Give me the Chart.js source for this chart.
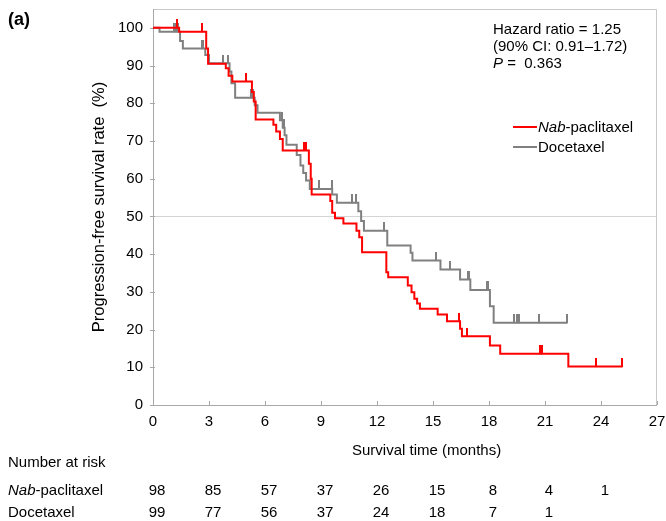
<!DOCTYPE html>
<html lang="en">
<head>
    <meta charset="UTF-8">
    <title>Progression-free survival</title>
    <script src="https://cdn.jsdelivr.net/npm/chart.js"></script>
    <style>
        body {
            margin: 0;
            font-family: "Liberation Sans", Arial, sans-serif;
            background: #fff;
        }
        #wrap {
            position: relative;
            width: 666px;
            height: 521px;
            overflow: hidden;
        }
        .txt {
            position: absolute;
            font-size: 15px;
            line-height: 17px;
            color: #000;
            white-space: nowrap;
        }
        .num {
            transform: translateX(-50%);
        }
        .key {
            position: absolute;
            width: 24px;
            height: 2px;
        }
    </style>
</head>
<body>

    <div id="wrap">
        <canvas id="km" width="666" height="521"></canvas>

        <div class="txt" style="left:8px; top:9px; font-size:18px; line-height:20px; font-weight:bold;">(a)</div>

        <!-- Hazard ratio block -->
        <div class="txt" style="left:493px; top:20px;">Hazard ratio = 1.25</div>
        <div class="txt" style="left:493px; top:37px;">(90% CI: 0.91–1.72)</div>
        <div class="txt" style="left:493px; top:54px;"><i>P</i> =&nbsp; 0.363</div>

        <!-- Legend -->
        <div class="key" style="left:513px; top:126px; background:#ff0000;"></div>
        <div class="txt" style="left:538px; top:118px;"><i>Nab</i>-paclitaxel</div>
        <div class="key" style="left:513px; top:146px; background:#808080;"></div>
        <div class="txt" style="left:538px; top:138px;">Docetaxel</div>

        <div class="txt" style="left:352px; top:441px;">Survival time (months)</div>

        <!-- Number at risk -->
        <div class="txt" style="left:8px; top:453px;">Number at risk</div>
        <div class="txt" style="left:8px; top:481px;"><i>Nab</i>-paclitaxel</div>
        <div class="txt" style="left:8px; top:503px;">Docetaxel</div>
        <div id="riskRows"></div>
    </div>

    <script>
        // Kaplan-Meier steps (time in months, survival in %)
        const nabTimes = [0, 1.4, 2.85, 2.95, 3.9, 4.05, 4.25, 5.3, 5.4, 5.5, 6.45, 6.6, 6.8, 6.95,
            8.35, 8.45, 8.5, 9.5, 9.6, 9.75, 10.2, 10.9, 11.05, 11.2, 12.5, 12.6, 13.65, 13.85,
            14.0, 14.15, 14.3, 15.25, 15.75, 16.45, 16.55, 18.05, 18.6, 22.25, 25.15];
        const nabSurv = [100, 99, 94.5, 90.5, 89.3, 87.3, 85.8, 83, 80.5, 75.7, 74.3, 72.5, 70.5, 67.5,
            64, 60, 55.8, 54.1, 51.0, 49.5, 48.1, 46.2, 44.5, 40.5, 35.2, 33.9, 31.7, 29.9,
            28.2, 26.9, 25.5, 24.0, 22.2, 20.2, 18.2, 15.8, 13.6, 10.2, 10.2];
        const nabCensor = [1.3, 2.6, 5.0, 8.1, 8.2, 16.4, 16.8, 20.75, 20.85, 23.75, 25.15];

        const doceTimes = [0, 0.35, 1.45, 1.6, 2.8, 3.0, 4.1, 4.2, 4.4, 5.45, 5.6, 6.8, 6.95, 7.05, 7.15,
            7.7, 7.9, 8.05, 8.2, 8.4, 9.6, 9.85, 11.0, 11.15, 11.3, 12.55, 13.8, 13.9, 15.4,
            16.45, 17.0, 18.05, 18.25, 22.19];
        const doceSurv = [100, 99, 96.5, 94.5, 92.8, 90.6, 88.4, 85.3, 81.5, 79.5, 77.5, 75.5, 73.5, 71.5, 69.0,
            66.3, 63.5, 61.5, 59.5, 57.3, 55.8, 53.6, 51.4, 48.8, 46.2, 42.3, 40.4, 38.3, 35.9,
            33.3, 30.5, 26.2, 21.8, 21.8];
        const doceCensor = [1.1, 1.25, 1.35, 2.6, 2.7, 3.75, 4.0, 5.25, 5.35, 6.9, 7.0, 8.9, 9.57,
            10.64, 10.85, 12.4, 15.15, 15.9, 16.85, 16.95, 17.87, 17.96, 19.35, 19.48, 19.62, 20.67, 22.19];

        const riskTimes = [0, 3, 6, 9, 12, 15, 18, 21, 24];
        const nabRisk = [98, 85, 57, 37, 26, 15, 8, 4, 1];
        const doceRisk = [99, 77, 56, 37, 24, 18, 7, 1];

        const RED = '#ff0000';
        const GREY = '#808080';
        const FONT = '"Liberation Sans", Arial, sans-serif';

        function survAt(times, surv, t) {
            let s = surv[0];
            for (let i = 0; i < times.length; i++) {
                if (times[i] <= t) s = surv[i];
            }
            return s;
        }

        // small vertical tick standing on the curve, used as censor mark
        function censorMark(color) {
            const c = document.createElement('canvas');
            c.width = 2;
            c.height = 17;
            const g = c.getContext('2d');
            g.fillStyle = color;
            g.fillRect(0, 0, 2, 9);
            return c;
        }

        const framePlugin = {
            id: 'frame',
            beforeDatasetsDraw(chart) {
                const {ctx, chartArea: a, scales: {x, y}} = chart;
                ctx.save();
                // 50% reference line
                const y50 = Math.round(y.getPixelForValue(50)) + 0.5;
                ctx.strokeStyle = '#d4d4d4';
                ctx.lineWidth = 1;
                ctx.beginPath();
                ctx.moveTo(a.left, y50);
                ctx.lineTo(a.right, y50);
                ctx.stroke();
                // top / right border
                ctx.strokeStyle = '#c8c8c8';
                ctx.beginPath();
                ctx.moveTo(a.left, a.top + 0.5);
                ctx.lineTo(a.right - 0.5, a.top + 0.5);
                ctx.lineTo(a.right - 0.5, a.bottom);
                ctx.stroke();
                // axes
                ctx.strokeStyle = '#a8a8a8';
                ctx.beginPath();
                ctx.moveTo(a.left + 0.5, a.top);
                ctx.lineTo(a.left + 0.5, a.bottom + 0.5);
                ctx.lineTo(a.right, a.bottom + 0.5);
                ctx.stroke();
                // tick marks
                ctx.beginPath();
                x.ticks.forEach(t => {
                    const px = Math.round(x.getPixelForValue(t.value)) + 0.5;
                    ctx.moveTo(px, a.bottom);
                    ctx.lineTo(px, a.bottom - 4);
                });
                y.ticks.forEach(t => {
                    const py = Math.round(y.getPixelForValue(t.value)) + 0.5;
                    ctx.moveTo(a.left - 3, py);
                    ctx.lineTo(a.left + 2, py);
                });
                ctx.stroke();
                ctx.restore();
            }
        };

        const toPoints = (times, surv) => times.map((t, i) => ({x: t, y: surv[i]}));
        const toCensor = (cens, times, surv) => cens.map(t => ({x: t, y: survAt(times, surv, t)}));

        const chart = new Chart(document.getElementById('km'), {
            type: 'scatter',
            data: {
                datasets: [
                    {
                        label: 'Nab-paclitaxel',
                        data: toPoints(nabTimes, nabSurv),
                        showLine: true,
                        stepped: 'before',
                        borderColor: RED,
                        borderWidth: 2,
                        pointRadius: 0
                    },
                    {
                        label: 'Nab-paclitaxel censored',
                        data: toCensor(nabCensor, nabTimes, nabSurv),
                        pointStyle: censorMark(RED),
                        pointRadius: 8
                    },
                    {
                        label: 'Docetaxel',
                        data: toPoints(doceTimes, doceSurv),
                        showLine: true,
                        stepped: 'before',
                        borderColor: GREY,
                        borderWidth: 2,
                        pointRadius: 0
                    },
                    {
                        label: 'Docetaxel censored',
                        data: toCensor(doceCensor, doceTimes, doceSurv),
                        pointStyle: censorMark(GREY),
                        pointRadius: 8
                    }
                ]
            },
            options: {
                responsive: false,
                animation: false,
                layout: {
                    padding: {left: 86, right: 9, top: 8, bottom: 0}
                },
                plugins: {
                    legend: {display: false},
                    tooltip: {enabled: false}
                },
                scales: {
                    x: {
                        type: 'linear',
                        min: 0,
                        max: 27,
                        grid: {display: false, drawTicks: false},
                        border: {display: false},
                        ticks: {
                            stepSize: 3,
                            padding: 8,
                            color: '#000',
                            maxRotation: 0,
                            font: {family: FONT, size: 15}
                        },
                        afterFit(scale) {
                            scale.height = 116;
                            scale.paddingLeft = 0;
                            scale.paddingRight = 0;
                        }
                    },
                    y: {
                        min: 0,
                        max: 105,
                        grid: {display: false, drawTicks: false},
                        border: {display: false},
                        ticks: {
                            stepSize: 10,
                            padding: 10,
                            color: '#000',
                            font: {family: FONT, size: 15}
                        },
                        afterBuildTicks(scale) {
                            scale.ticks = scale.ticks.filter(t => t.value <= 100);
                        },
                        title: {
                            display: true,
                            text: 'Progression-free survival rate  (%)',
                            color: '#000',
                            padding: {top: 4, bottom: 4},
                            font: {family: FONT, size: 16.5}
                        },
                        afterFit(scale) {
                            scale.width = 67;
                            scale.paddingTop = 0;
                            scale.paddingBottom = 0;
                        }
                    }
                }
            },
            plugins: [framePlugin]
        });

        // numbers at risk, placed under the x ticks
        const rows = document.getElementById('riskRows');
        [[nabRisk, 481], [doceRisk, 503]].forEach(([vals, top]) => {
            vals.forEach((v, i) => {
                const d = document.createElement('div');
                d.className = 'txt num';
                d.style.top = top + 'px';
                d.style.left = (chart.scales.x.getPixelForValue(riskTimes[i]) + 4) + 'px';
                d.textContent = v;
                rows.appendChild(d);
            });
        });
    </script>

</body>
</html>
